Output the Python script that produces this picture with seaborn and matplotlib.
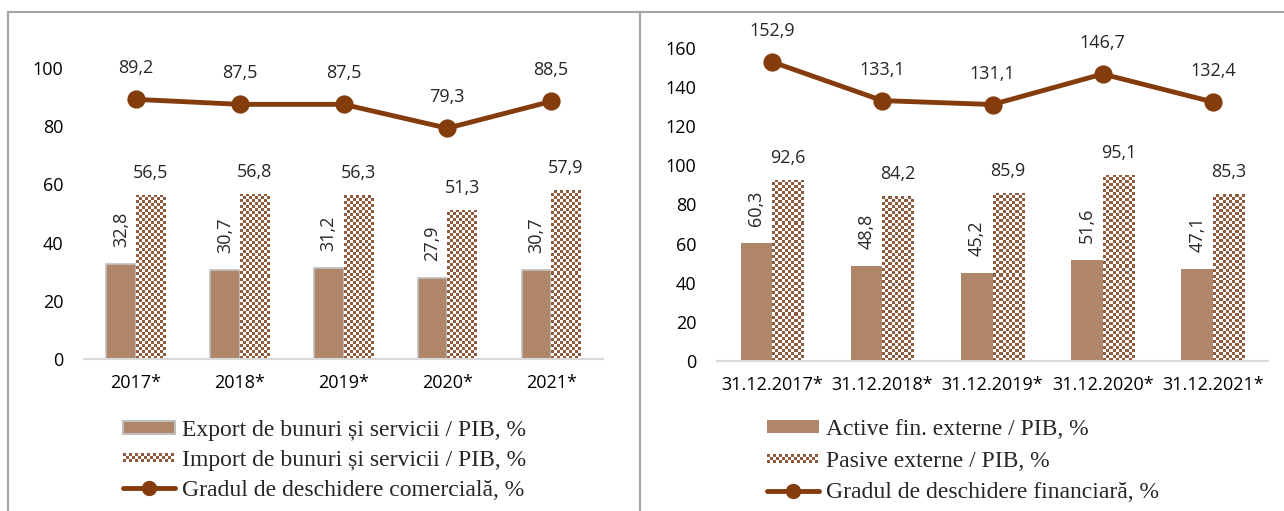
import numpy as np
import pandas as pd
import matplotlib
matplotlib.use("Agg")
import matplotlib.pyplot as plt
import seaborn as sns
from matplotlib.patches import Rectangle
from matplotlib.lines import Line2D
from matplotlib.legend_handler import HandlerBase
from matplotlib.colors import ListedColormap

# ---------------- data ----------------
years = ["2017*", "2018*", "2019*", "2020*", "2021*"]
export_pib = [32.8, 30.7, 31.2, 27.9, 30.7]
import_pib = [56.5, 56.8, 56.3, 51.3, 57.9]
deschidere_com = [89.2, 87.5, 87.5, 79.3, 88.5]

dates = ["31.12.2017*", "31.12.2018*", "31.12.2019*", "31.12.2020*", "31.12.2021*"]
active_pib = [60.3, 48.8, 45.2, 51.6, 47.1]
pasive_pib = [92.6, 84.2, 85.9, 95.1, 85.3]
deschidere_fin = [152.9, 133.1, 131.1, 146.7, 132.4]

left_labels = ["Export de bunuri și servicii / PIB, %",
               "Import de bunuri și servicii / PIB, %",
               "Gradul de deschidere comercială, %"]
right_labels = ["Active fin. externe / PIB, %",
                "Pasive externe / PIB, %",
                "Gradul de deschidere financiară, %"]
left_yticks = [0, 20, 40, 60, 80, 100]
right_yticks = [0, 20, 40, 60, 80, 100, 120, 140, 160]

# ---------------- style ----------------
BAR = "#B0866A"
CHECK = "#8E5B3E"
LINE = "#843C0C"
FRAME = "#A6A6A6"
AXIS = "#D9D9D9"
W, H = 1284, 511
PX = 72.0 / 100.0  # points per pixel at dpi 100

sns.set_style("white")
plt.rcParams["font.family"] = ["Open Sans", "DejaVu Sans"]
SERIF = ["Liberation Serif", "DejaVu Serif"]
LEGFS = 17

fig = plt.figure(figsize=(W / 100, H / 100), dpi=100)


def fx(px):
    return px / W


def fy(py):
    return 1 - py / H


class CheckerHandler(HandlerBase):
    def create_artists(self, legend, orig_handle, xdescent, ydescent,
                       width, height, fontsize, trans):
        c = 3 * PX
        nx = int(width / c)
        ny = 3
        y0 = -ydescent + height / 2 - ny * c / 2
        x0 = -xdescent + (width - nx * c) / 2
        arts = []
        for i in range(nx):
            for j in range(ny):
                if (i + j) % 2 == 0:
                    r = Rectangle((x0 + i * c, y0 + j * c), c, c,
                                  facecolor=CHECK, edgecolor="none", lw=0,
                                  transform=trans)
                    arts.append(r)
        return arts


def panel(rect_px, cats, a, b, line, ymax, yticks, labels, edge,
          leg_anchor, leg_spacing):
    l, r, t, btm = rect_px
    ax = fig.add_axes([fx(l), fy(btm), (r - l) / W, (btm - t) / H])
    df = pd.DataFrame({"cat": cats * 2, "val": a + b,
                       "ser": [labels[0]] * len(cats) + [labels[1]] * len(cats)})
    sns.barplot(data=df, x="cat", y="val", hue="ser", palette=[BAR, "white"],
                width=0.57, gap=0, errorbar=None, legend=False, ax=ax,
                linewidth=0, saturation=1)
    n = len(cats)
    pats = ax.patches[:2 * n]
    ax_w_px = r - l
    ax_h_px = btm - t
    for p in pats[:n]:
        if edge:
            p.set_edgecolor("#BFBFBF")
            p.set_linewidth(1.2)
        p.set_zorder(2)
    cmap = ListedColormap(["white", CHECK])
    for p in pats[n:]:
        x0, w, hgt = p.get_x(), p.get_width(), p.get_height()
        wpx = w * ax_w_px / n
        hpx = hgt * ax_h_px / ymax
        nxc = max(1, int(round(wpx / 3)))
        nyc = max(1, int(round(hpx / 3)))
        ii, jj = np.meshgrid(np.arange(nxc), np.arange(nyc))
        arr = ((ii + jj) % 2 == 0).astype(float)
        im = ax.imshow(arr, extent=(x0, x0 + w, 0, hgt), origin="lower",
                       aspect="auto", interpolation="nearest", cmap=cmap,
                       vmin=0, vmax=1, zorder=2.5)
        im.set_clip_path(p)
    sns.pointplot(x=cats, y=line, color=LINE, markers="o", markersize=10.5,
                  linewidth=3.5, ax=ax, errorbar=None)
    for ln in ax.lines:
        ln.set_zorder(4)
    ax.set_xlim(-0.5, n - 0.5)
    ax.set_ylim(0, ymax)
    ax.set_yticks(yticks)
    ax.set_xlabel("")
    ax.set_ylabel("")
    ax.tick_params(axis="both", length=0, labelsize=13, colors="black")
    ax.tick_params(axis="y", pad=15)
    ax.tick_params(axis="x", pad=11)
    for s in ["left", "right", "top"]:
        ax.spines[s].set_visible(False)
    ax.spines["bottom"].set_color(AXIS)
    ax.spines["bottom"].set_linewidth(1.5)
    ax.patch.set_alpha(0)

    off = 0.57 / 4
    for i in range(n):
        ax.annotate(f"{a[i]:.1f}".replace(".", ","), (i - off, a[i]),
                    xytext=(0, 17 * PX), textcoords="offset points",
                    ha="center", va="bottom", rotation=90, fontsize=13)
        ax.annotate(f"{b[i]:.1f}".replace(".", ","), (i + off, b[i]),
                    xytext=(0, 22 * PX), textcoords="offset points",
                    ha="center", va="center", fontsize=13)
        ax.annotate(f"{line[i]:.1f}".replace(".", ","), (i, line[i]),
                    xytext=(0, 31 * PX), textcoords="offset points",
                    ha="center", va="center", fontsize=13)

    h1 = Rectangle((0, 0), 1, 1, facecolor=BAR,
                   edgecolor="#BFBFBF" if edge else BAR, lw=1.5 if edge else 0)
    h2 = Rectangle((0, 0), 1, 1, facecolor="white")
    h3 = Line2D([], [], color=LINE, lw=3.5, marker="o", markersize=10)
    fig.legend([h1, h2, h3], labels, loc="upper left",
               bbox_to_anchor=(fx(leg_anchor[0]), fy(leg_anchor[1])),
               frameon=False, borderpad=0, borderaxespad=0,
               handlelength=2.2, handleheight=0.5, handletextpad=0.3,
               labelspacing=leg_spacing,
               handler_map={h2: CheckerHandler()},
               prop={"family": SERIF, "size": LEGFS})
    return ax


panel((84, 603, 24, 359), years, export_pib, import_pib, deschidere_com,
      115.1, left_yticks, left_labels, True, (123, 420), 0.38)
panel((717, 1268, 20, 361), dates, active_pib, pasive_pib, deschidere_fin,
      174.3, right_yticks, right_labels, False, (767, 419), 0.45)

# outer frame lines
fig.add_artist(Line2D([fx(8), fx(1284)], [fy(12), fy(12)], color=FRAME, lw=1.5))
fig.add_artist(Line2D([fx(8), fx(8)], [fy(12), fy(511)], color=FRAME, lw=1.5))
fig.add_artist(Line2D([fx(640), fx(640)], [fy(12), fy(511)], color=FRAME, lw=1.5))

fig.savefig("out.png", dpi=100)
